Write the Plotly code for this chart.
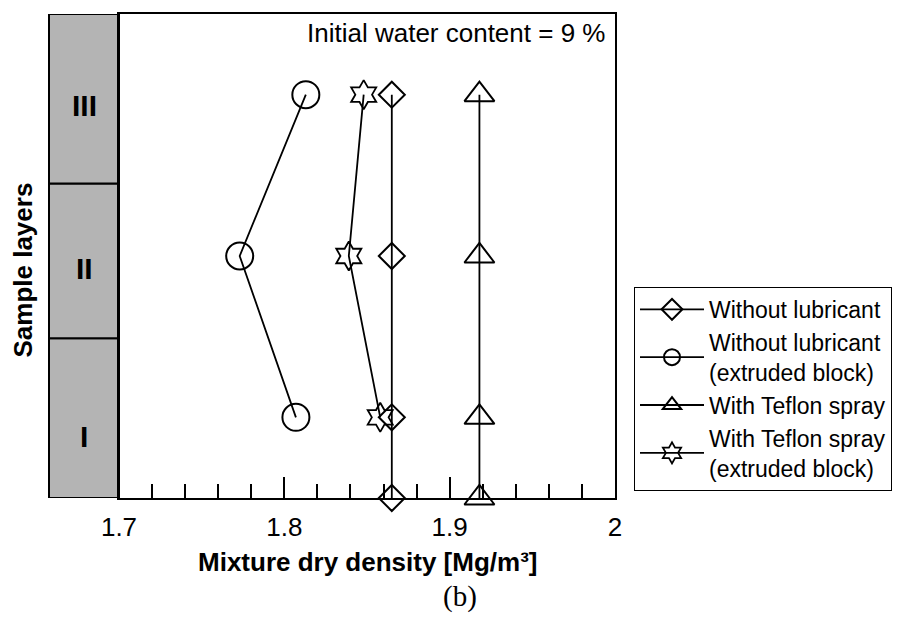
import plotly.graph_objects as go

# ---- data ----
layer_labels = ["I", "II", "III"]
# positions along sample height (bottom of sample, layer I, II, III)
y_full = [0, 0.5, 1.5, 2.5]
y_layers = [0.5, 1.5, 2.5]

without_lub = [1.865, 1.865, 1.865, 1.865]
without_lub_extruded = [1.807, 1.773, 1.813]
teflon = [1.918, 1.918, 1.918, 1.918]
teflon_extruded = [1.858, 1.839, 1.848]

FONT = "Liberation Sans, Arial, sans-serif"

fig = go.Figure()

common = dict(mode="lines+markers", cliponaxis=False,
              line=dict(color="black", width=1.8))

fig.add_trace(go.Scatter(x=without_lub, y=y_full, name="Without lubricant",
                         marker=dict(symbol="diamond-open", size=20, color="black",
                                     line=dict(width=2, color="black")), **common))
fig.add_trace(go.Scatter(x=without_lub_extruded, y=y_layers,
                         name="Without lubricant<br>(extruded block)",
                         marker=dict(symbol="circle-open", size=27, color="black",
                                     line=dict(width=2, color="black")), **common))
fig.add_trace(go.Scatter(x=teflon, y=y_full, name="With Teflon spray",
                         marker=dict(symbol="triangle-up-open", size=26, color="black",
                                     line=dict(width=2, color="black")), **common))
fig.add_trace(go.Scatter(x=teflon_extruded, y=y_layers,
                         name="With Teflon spray<br>(extruded block)",
                         marker=dict(symbol="hexagram-open", size=22, color="black",
                                     line=dict(width=1.8, color="black")), **common))

# gray layer strip on the left
bounds = [0, 0.99, 1.95, 3]
strip_x0 = -70 / 496
for i in range(3):
    fig.add_shape(type="rect", xref="paper", yref="y", x0=strip_x0, x1=0,
                  y0=bounds[i], y1=bounds[i + 1], fillcolor="#b4b4b4",
                  line=dict(color="black", width=2), layer="below")
label_y = [0.38, 1.42, 2.43]
for lab, yy in zip(layer_labels, label_y):
    fig.add_annotation(x=strip_x0 / 2, xref="paper", y=yy, yref="y", text=lab,
                       showarrow=False, font=dict(family=FONT, size=30, color="black", weight="bold"),
                       xanchor="center", yanchor="middle")

fig.add_annotation(x=-96 / 496, xref="paper", y=0.47, yref="paper", text="Sample layers",
                   textangle=-90, showarrow=False,
                   font=dict(family=FONT, size=26, color="black", weight="bold"),
                   xanchor="center", yanchor="middle")
fig.add_annotation(x=0.5, xref="paper", y=-0.132, yref="paper",
                   text="Mixture dry density [Mg/m³]", showarrow=False,
                   font=dict(family=FONT, size=26, color="black", weight="bold"),
                   xanchor="center", yanchor="middle")
fig.add_annotation(x=0.984, xref="paper", y=0.96, yref="paper",
                   text="Initial water content = 9 %", showarrow=False,
                   font=dict(family=FONT, size=26, color="black"),
                   xanchor="right", yanchor="middle")
fig.add_annotation(x=0.6875, xref="paper", y=-0.203, yref="paper", text="(b)",
                   showarrow=False,
                   font=dict(family="Liberation Serif, serif", size=29, color="black"),
                   xanchor="center", yanchor="middle")

fig.update_xaxes(range=[1.7, 2.0], dtick=0.1, tick0=1.7, ticks="inside", ticklen=21,
                 tickwidth=2, tickcolor="black",
                 minor=dict(dtick=0.02, ticks="inside", ticklen=14, tickwidth=2, tickcolor="black"),
                 showline=True, linewidth=2, linecolor="black", mirror=True,
                 showgrid=False, zeroline=False, ticklabelstandoff=5,
                 tickfont=dict(family=FONT, size=26, color="black"))
fig.update_yaxes(range=[0, 3], showticklabels=False, ticks="",
                 showline=True, linewidth=2, linecolor="black", mirror=True,
                 showgrid=False, zeroline=False)

fig.update_layout(
    width=904, height=628, autosize=False,
    margin=dict(l=119, r=289, t=12, b=130),
    plot_bgcolor="white", paper_bgcolor="white",
    font=dict(family=FONT, color="black"),
    showlegend=True,
    legend=dict(x=515 / 496, y=(498 - 286) / 486, xanchor="left", yanchor="top",
                bordercolor="black", borderwidth=1, bgcolor="white",
                font=dict(family=FONT, size=23, color="black"),
                itemwidth=64, tracegroupgap=0),
)

fig.write_html("out.html")
